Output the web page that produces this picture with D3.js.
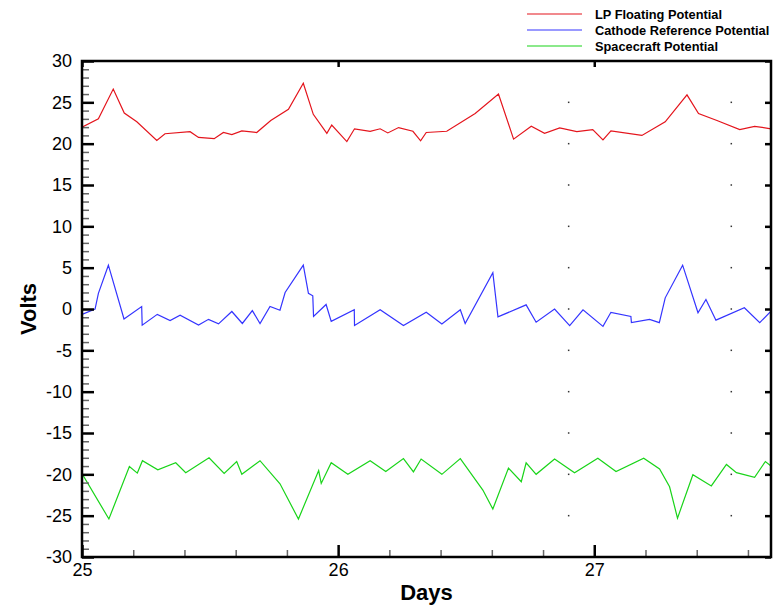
<!DOCTYPE html>
<html>
<head>
<meta charset="utf-8">
<script src="https://cdn.jsdelivr.net/npm/d3@7"></script>
<style>
  body { margin: 0; background: #fff; }
  svg { display: block; font-family: "Liberation Sans", Arial, sans-serif; }
</style>
</head>
<body>
<svg width="773" height="610"></svg>
<script>
// values (days, volts)
const lpDays = [25.0,25.064,25.122,25.165,25.214,25.292,25.324,25.422,25.455,25.516,25.552,25.585,25.624,25.682,25.737,25.806,25.864,25.903,25.956,25.975,26.034,26.064,26.125,26.164,26.194,26.236,26.292,26.322,26.344,26.424,26.535,26.626,26.685,26.754,26.806,26.865,26.932,26.994,27.034,27.065,27.186,27.277,27.362,27.407,27.479,27.568,27.626,27.69];
const lpVolts = [22.0,23.0,26.6,23.7,22.65,20.4,21.2,21.45,20.75,20.6,21.35,21.1,21.55,21.35,22.8,24.15,27.3,23.55,21.25,22.25,20.25,21.8,21.5,21.8,21.3,21.95,21.5,20.35,21.35,21.5,23.65,26.0,20.55,22.1,21.25,21.9,21.45,21.7,20.45,21.55,21.0,22.65,25.9,23.65,22.8,21.7,22.1,21.8];

const cathDays = [25.0,25.051,25.064,25.103,25.164,25.233,25.235,25.294,25.344,25.383,25.455,25.494,25.533,25.585,25.626,25.665,25.695,25.734,25.773,25.793,25.864,25.884,25.901,25.904,25.953,25.973,26.063,26.064,26.164,26.255,26.344,26.405,26.477,26.496,26.604,26.624,26.734,26.773,26.845,26.904,26.956,27.034,27.065,27.143,27.145,27.216,27.254,27.277,27.345,27.405,27.436,27.475,27.586,27.646,27.69];
const cathVolts = [-0.65,0.0,1.9,5.3,-1.2,0.3,-1.95,-0.65,-1.4,-0.75,-1.95,-1.25,-1.8,-0.3,-1.75,-0.2,-1.75,0.3,-0.15,2.0,5.3,1.9,1.6,-0.9,0.55,-1.5,-0.1,-2.0,-0.1,-2.0,-0.4,-1.8,-0.1,-1.75,4.4,-0.95,0.5,-1.6,0.0,-2.0,-0.1,-2.1,-0.4,-0.9,-1.65,-1.25,-1.65,1.35,5.3,-0.45,1.15,-1.35,0.15,-1.65,-0.25];

const scDays = [25.0,25.105,25.185,25.216,25.236,25.296,25.366,25.405,25.496,25.555,25.604,25.624,25.695,25.773,25.845,25.924,25.934,25.973,26.038,26.125,26.186,26.255,26.294,26.324,26.405,26.477,26.565,26.604,26.665,26.715,26.734,26.773,26.845,26.923,27.014,27.085,27.193,27.255,27.294,27.325,27.385,27.457,27.516,27.555,27.626,27.668,27.69];
const scVolts = [-19.9,-25.4,-19.05,-19.85,-18.35,-19.45,-18.6,-19.8,-18.0,-19.9,-18.45,-20.0,-18.35,-21.15,-25.4,-19.55,-21.1,-18.6,-20.0,-18.35,-19.65,-18.1,-19.7,-18.15,-20.0,-18.1,-21.9,-24.2,-19.25,-20.9,-18.6,-20.0,-18.15,-19.8,-18.05,-19.65,-18.05,-19.35,-21.5,-25.3,-20.05,-21.4,-18.8,-19.8,-20.35,-18.45,-19.0];

const seriesNames = ["LP Floating Potential", "Cathode Reference Potential", "Spacecraft Potential"];
const xTicks = [25, 26, 27];
const yTicks = [-30,-25,-20,-15,-10,-5,0,5,10,15,20,25,30];

const colors = ["#e4141c", "#3434ff", "#19d419"];

const svg = d3.select("svg");
const mLeft = 82, mRight = 771, mTop = 61, mBottom = 557;

const x = d3.scaleLinear().domain([25, 27.69]).range([mLeft, mRight]);
const y = d3.scaleLinear().domain([-30, 30]).range([mBottom, mTop]);

const xMinor = d3.range(25, 27.7, 0.2).map(d => +d.toFixed(1)).filter(d => !xTicks.includes(d));
const yMinor = d3.range(-30, 31, 1).filter(d => d % 5 !== 0);

const series = [
  { name: seriesNames[0], days: lpDays, volts: lpVolts },
  { name: seriesNames[1], days: cathDays, volts: cathVolts },
  { name: seriesNames[2], days: scDays, volts: scVolts }
];

svg.append("clipPath").attr("id", "clip")
  .append("rect").attr("x", mLeft).attr("y", mTop)
  .attr("width", mRight - mLeft).attr("height", mBottom - mTop);

// stray grid dots seen in the picture
const dotDays = [26.9, 27.535];
const dotVals = yTicks.filter(d => d > -30 && d < 30);
dotDays.forEach(dd => {
  svg.append("g").selectAll("rect").data(dotVals).join("rect")
    .attr("x", x(dd) - 0.75).attr("y", d => y(d) - 0.75)
    .attr("width", 1.5).attr("height", 1.5).attr("fill", "#333");
});

const line = d3.line().x(d => x(d[0])).y(d => y(d[1]));

svg.append("g").attr("clip-path", "url(#clip)")
  .selectAll("path").data(series).join("path")
  .attr("d", s => line(s.days.map((d, i) => [d, s.volts[i]])))
  .attr("fill", "none")
  .attr("stroke", (s, i) => colors[i])
  .attr("stroke-width", 1.2);

function styleAxis(g, minor) {
  g.select(".domain").remove();
  g.selectAll(".tick line")
    .attr("stroke", minor ? "#666" : "#000")
    .attr("stroke-width", minor ? 1.5 : 2.5);
  g.selectAll("text").attr("font-size", 18).attr("fill", "#000")
    .attr("font-family", "'Liberation Sans', Arial, sans-serif");
}

// left axis
svg.append("g").attr("transform", `translate(${mLeft},0)`)
  .call(d3.axisLeft(y).tickValues(yMinor).tickSize(-7).tickFormat(""))
  .call(g => styleAxis(g, true));
svg.append("g").attr("transform", `translate(${mLeft},0)`)
  .call(d3.axisLeft(y).tickValues(yTicks).tickSize(-12).tickPadding(10).tickFormat(d => String(d)))
  .call(g => styleAxis(g, false));

// right axis
svg.append("g").attr("transform", `translate(${mRight},0)`)
  .call(d3.axisRight(y).tickValues(yTicks).tickSize(-6).tickFormat(""))
  .call(g => styleAxis(g, false));

// bottom axis
svg.append("g").attr("transform", `translate(0,${mBottom})`)
  .call(d3.axisBottom(x).tickValues(xMinor).tickSize(-7).tickFormat(""))
  .call(g => styleAxis(g, true));
svg.append("g").attr("transform", `translate(0,${mBottom})`)
  .call(d3.axisBottom(x).tickValues(xTicks).tickSize(-12).tickPadding(6).tickFormat(d => String(d)))
  .call(g => styleAxis(g, false));

// top axis
svg.append("g").attr("transform", `translate(0,${mTop})`)
  .call(d3.axisTop(x).tickValues(xTicks).tickSize(-6).tickFormat(""))
  .call(g => styleAxis(g, false));

// frame
svg.append("rect").attr("x", mLeft).attr("y", mTop)
  .attr("width", mRight - mLeft).attr("height", mBottom - mTop)
  .attr("fill", "none").attr("stroke", "#000").attr("stroke-width", 2.5);

// axis titles
svg.append("text").attr("x", (mLeft + mRight) / 2).attr("y", 600)
  .attr("text-anchor", "middle").attr("font-size", 22).attr("font-weight", "bold")
  .text("Days");
svg.append("text").attr("transform", "translate(36,309) rotate(-90)")
  .attr("text-anchor", "middle").attr("font-size", 22).attr("font-weight", "bold")
  .text("Volts");

// legend
const legend = svg.append("g").selectAll("g").data(series).join("g")
  .attr("transform", (s, i) => `translate(527,${14 + i * 16})`);
legend.append("line").attr("x1", 0).attr("x2", 55)
  .attr("stroke", (s, i) => colors[i]).attr("stroke-width", 1.2);
legend.append("text").attr("x", 68).attr("y", 4.5)
  .attr("font-size", 12.8).attr("font-weight", "bold").text(s => s.name);
</script>
</body>
</html>
